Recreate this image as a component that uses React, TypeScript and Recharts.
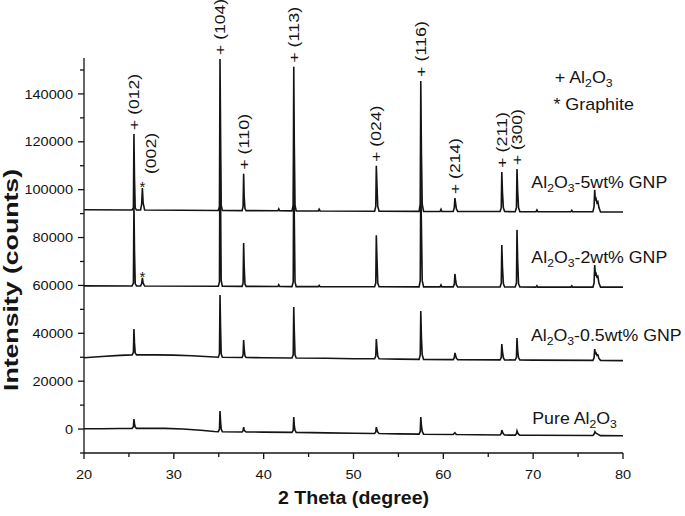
import React from 'react';
import { LineChart, Line, XAxis, YAxis, ReferenceDot } from 'recharts';

// 2θ (degree) / intensity (counts) pairs
const pure: [number, number][] = [
  [20, 100], [22, 150], [24, 250],
  [25.35, 300], [25.5, 1000], [25.56, 4200], [25.62, 2300], [25.7, 800], [25.85, 300],
  [27, 300], [29, 300], [31, 0], [33, -500], [34.5, -1000],
  [34.95, -1100], [35.08, 0], [35.14, 7500], [35.2, 3500], [35.27, 0], [35.4, -1100],
  [37.6, -1200], [37.71, -700], [37.77, 800], [37.83, -300], [37.92, -900], [38.05, -1200],
  [40, -1300],
  [43.15, -1400], [43.29, -500], [43.35, 5000], [43.41, 1500], [43.49, -500], [43.62, -1400],
  [47, -1600], [50, -1750],
  [52.35, -1850], [52.48, -1200], [52.54, 800], [52.61, -200], [52.7, -1300], [52.85, -1850],
  [55, -2000],
  [57.3, -2100], [57.43, -1000], [57.49, 5000], [57.56, 1500], [57.65, -1000], [57.8, -2150],
  [61.1, -2300], [61.29, -1500], [61.45, -2300],
  [66.32, -2500], [66.45, -1800], [66.51, -400], [66.58, -1200], [66.68, -2000], [66.82, -2500],
  [68.0, -2550], [68.14, -1900], [68.2, -800], [68.27, -1500], [68.37, -2100], [68.52, -2550],
  [70, -2600],
  [76.65, -2700], [76.8, -2000], [76.88, -1100], [77.0, -1700], [77.15, -2000], [77.35, -2500], [77.5, -2750],
  [80, -2800],
];

const gnp05: [number, number][] = [
  [20, 29800], [22, 30300], [24, 30800],
  [25.35, 31000], [25.5, 32000], [25.56, 41800], [25.62, 36000], [25.7, 31800], [25.85, 31000],
  [28, 31000], [30, 30900], [32, 30600], [34, 30200],
  [34.95, 30000], [35.08, 31500], [35.14, 56000], [35.2, 43000], [35.27, 31500], [35.4, 30000],
  [37.6, 29900], [37.71, 31000], [37.77, 37200], [37.83, 33500], [37.92, 30500], [38.05, 29900],
  [40, 29800],
  [43.15, 29700], [43.29, 31000], [43.35, 51000], [43.41, 41000], [43.49, 31000], [43.62, 29700],
  [47, 29550], [50, 29400],
  [52.35, 29350], [52.48, 30500], [52.54, 37600], [52.61, 34000], [52.7, 30500], [52.85, 29350],
  [55, 29200],
  [57.3, 29100], [57.43, 31000], [57.49, 49300], [57.56, 38400], [57.65, 31000], [57.8, 29100],
  [61.1, 29000], [61.22, 29800], [61.29, 31800], [61.36, 30800], [61.45, 29600], [61.6, 29000],
  [66.32, 28900], [66.45, 30000], [66.51, 35500], [66.58, 32500], [66.68, 29800], [66.82, 28900],
  [68.0, 28850], [68.14, 30000], [68.2, 38000], [68.27, 33000], [68.37, 29800], [68.52, 28850],
  [70, 28800],
  [76.65, 28700], [76.78, 29800], [76.85, 33400], [76.92, 31500], [77.0, 31800], [77.1, 30800], [77.2, 31000], [77.32, 29500], [77.5, 28700],
  [80, 28600],
];

const gnp2: [number, number][] = [
  [20, 59800],
  [25.35, 59750], [25.5, 61000], [25.56, 94000], [25.62, 75000], [25.7, 60800], [25.85, 59750],
  [26.3, 59750], [26.42, 60800], [26.5, 63200], [26.58, 61000], [26.75, 59750],
  [34.95, 59650], [35.08, 61500], [35.14, 121000], [35.2, 98000], [35.27, 62000], [35.4, 59650],
  [37.6, 59600], [37.71, 61000], [37.77, 77700], [37.83, 68000], [37.92, 60500], [38.05, 59600],
  [41.58, 59550], [41.68, 60300], [41.78, 59550],
  [43.15, 59500], [43.29, 61500], [43.35, 112000], [43.41, 88000], [43.49, 61500], [43.62, 59500],
  [46.08, 59500], [46.18, 60000], [46.28, 59500],
  [52.35, 59450], [52.48, 61000], [52.54, 81000], [52.61, 71500], [52.7, 61000], [52.85, 59450],
  [57.3, 59400], [57.43, 62000], [57.49, 102000], [57.56, 85000], [57.65, 62000], [57.8, 59400],
  [59.64, 59400], [59.74, 60200], [59.84, 59400],
  [61.1, 59400], [61.22, 60500], [61.29, 64800], [61.36, 62500], [61.45, 60200], [61.6, 59400],
  [66.32, 59350], [66.45, 61000], [66.51, 76900], [66.58, 68000], [66.68, 60800], [66.82, 59350],
  [68.0, 59350], [68.14, 61000], [68.2, 83200], [68.27, 71000], [68.37, 60800], [68.52, 59350],
  [70.32, 59300], [70.42, 59900], [70.52, 59300],
  [74.2, 59300], [74.3, 59800], [74.4, 59300],
  [76.65, 59300], [76.78, 61000], [76.85, 68500], [76.92, 64500], [77.0, 65000], [77.1, 63500], [77.2, 63800], [77.32, 61000], [77.5, 59300],
  [80, 59300],
];

const gnp5: [number, number][] = [
  [20, 91600],
  [25.35, 91500], [25.5, 92500], [25.56, 123300], [25.62, 105000], [25.7, 92300], [25.85, 91500],
  [26.3, 91500], [26.42, 94000], [26.5, 100700], [26.58, 94500], [26.75, 91500],
  [34.95, 91300], [35.08, 93000], [35.14, 154600], [35.2, 125500], [35.27, 93500], [35.4, 91300],
  [37.6, 91250], [37.71, 93000], [37.77, 106600], [37.83, 97000], [37.92, 92000], [38.05, 91250],
  [41.58, 91200], [41.68, 92000], [41.78, 91200],
  [43.15, 91150], [43.29, 93500], [43.35, 151300], [43.41, 119000], [43.49, 93500], [43.62, 91150],
  [46.08, 91100], [46.18, 91800], [46.28, 91100],
  [52.35, 91000], [52.48, 93000], [52.54, 110000], [52.61, 102000], [52.7, 93000], [52.85, 91000],
  [57.3, 90950], [57.43, 94000], [57.49, 145400], [57.56, 115700], [57.65, 94000], [57.8, 90950],
  [59.64, 90900], [59.74, 91800], [59.84, 90900],
  [61.1, 90900], [61.22, 92500], [61.29, 96500], [61.36, 94500], [61.45, 92000], [61.6, 90900],
  [66.32, 90850], [66.45, 92500], [66.51, 107400], [66.58, 99000], [66.68, 92500], [66.82, 90850],
  [68.0, 90800], [68.14, 92500], [68.2, 108600], [68.27, 100000], [68.37, 92500], [68.52, 90800],
  [70.32, 90800], [70.42, 91500], [70.52, 90800],
  [74.2, 90750], [74.3, 91400], [74.4, 90750],
  [76.65, 90750], [76.78, 93000], [76.85, 99900], [76.92, 95500], [77.0, 96200], [77.1, 94500], [77.2, 95000], [77.32, 92500], [77.5, 90700],
  [80, 90700],
];

const peakLabels = [
  { t: 25.56, v: 123300, text: '+ (012)' },
  { t: 35.14, v: 154600, text: '+ (104)' },
  { t: 37.77, v: 106600, text: '+ (110)' },
  { t: 43.35, v: 151300, text: '+ (113)' },
  { t: 52.54, v: 110000, text: '+ (024)' },
  { t: 57.49, v: 145400, text: '+ (116)' },
  { t: 61.29, v: 96500, text: '+ (214)' },
  { t: 66.51, v: 107400, text: '+ (211)' },
  { t: 68.2, v: 108600, text: '+ (300)' },
];
const graphiteMarks = [
  { t: 26.5, v: 100700 },
  { t: 26.5, v: 63200 },
];
const graphiteLabel = { t: 26.5, v: 100700, text: '(002)' };

const seriesLabels = [
  { t: 69.8, v: 100700, pre: '', post: '-5wt% GNP' },
  { t: 69.8, v: 69400, pre: '', post: '-2wt% GNP' },
  { t: 69.75, v: 36800, pre: '', post: '-0.5wt% GNP' },
  { t: 69.9, v: 2100, pre: 'Pure ', post: '' },
];
const legendLines = [
  { t: 72.4, v: 144600, mark: '+ ', formula: true, text: '' },
  { t: 72.25, v: 133300, mark: '* ', formula: false, text: 'Graphite' },
];

const xTicks = [20, 25, 30, 35, 40, 45, 50, 55, 60, 65, 70, 75, 80];
const xMajor = [20, 30, 40, 50, 60, 70, 80];
const yTicks = [-10000, 0, 10000, 20000, 30000, 40000, 50000, 60000, 70000, 80000, 90000, 100000, 110000, 120000, 130000, 140000, 150000];
const yMajor = [0, 20000, 40000, 60000, 80000, 100000, 120000, 140000];

const toRows = (pts: [number, number][]) => pts.map(([t, v]) => ({ t, v }));

const FONT = '"Liberation Sans", Arial, Helvetica, sans-serif';
const INK = '#141414';

const XTick = (p: any) => {
  const { x, y, payload } = p;
  const major = xMajor.includes(payload.value);
  return (
    <g>
      <line x1={x} x2={x} y1={y} y2={y + (major ? 6 : 4)} stroke={INK} strokeWidth={1.3} />
      {major && (
        <g transform={`translate(${x},${y + 26}) scale(1.12,1)`}>
          <text x={0} y={0} textAnchor="middle" fontSize={13} fontFamily={FONT} fill={INK}>
            {payload.value}
          </text>
        </g>
      )}
    </g>
  );
};

const YTick = (p: any) => {
  const { x, y, payload } = p;
  const major = yMajor.includes(payload.value);
  return (
    <g>
      <line x1={x - (major ? 6 : 4)} x2={x} y1={y} y2={y} stroke={INK} strokeWidth={1.3} />
      {major && (
        <g transform={`translate(${x - 11},${y + 4.6}) scale(1.12,1)`}>
          <text x={0} y={0} textAnchor="end" fontSize={13} fontFamily={FONT} fill={INK}>
            {payload.value}
          </text>
        </g>
      )}
    </g>
  );
};

const Formula = ({ pre, post }: { pre: string; post: string }) => (
  <text x={0} y={0} fontSize={16} fontFamily={FONT} fill={INK}>
    {pre}Al
    <tspan fontSize={11} dy={4}>2</tspan>
    <tspan fontSize={16} dy={-4}>O</tspan>
    <tspan fontSize={11} dy={4}>3</tspan>
    {post ? <tspan fontSize={16} dy={-4}>{post}</tspan> : null}
  </text>
);

export default function App() {
  return (
    <div style={{ position: 'absolute', left: 0, top: 0, width: 685, height: 516, background: '#fff' }}>
      <LineChart width={685} height={516} margin={{ top: 58, right: 62, bottom: 33, left: 24 }}>
        <XAxis
          type="number"
          dataKey="t"
          domain={[20, 80]}
          ticks={xTicks}
          interval={0}
          allowDataOverflow
          tickSize={0}
          tickMargin={0}
          height={30}
          axisLine={{ stroke: INK, strokeWidth: 1.3 }}
          tickLine={false}
          tick={(p: any) => <XTick {...p} />}
          label={{
            content: (lp: any) => {
              const vb = lp.viewBox || { x: 84, y: 453, width: 539 };
              return (
                <g transform={`translate(${vb.x + vb.width / 2},${vb.y + 51}) scale(1.12,1)`}>
                  <text x={0} y={0} textAnchor="middle" fontSize={17.5} fontWeight="bold" fontFamily={FONT} fill={INK}>
                    2 Theta (degree)
                  </text>
                </g>
              );
            },
          }}
        />
        <YAxis
          type="number"
          domain={[-10000, 155000]}
          ticks={yTicks}
          interval={0}
          allowDataOverflow
          tickSize={0}
          tickMargin={0}
          width={60}
          axisLine={{ stroke: INK, strokeWidth: 1.3 }}
          tickLine={false}
          tick={(p: any) => <YTick {...p} />}
          label={{
            content: () => (
              <text
                transform="translate(18,280) rotate(-90)"
                x={0}
                y={0}
                textAnchor="middle"
                fontSize={20}
                fontWeight="bold"
                fontFamily={FONT}
                fill={INK}
                textLength={222}
                lengthAdjust="spacingAndGlyphs"
              >
                Intensity (counts)
              </text>
            ),
          }}
        />
        {[pure, gnp05, gnp2, gnp5].map((s, i) => (
          <Line
            key={i}
            data={toRows(s)}
            dataKey="v"
            type="linear"
            stroke={INK}
            strokeWidth={1.6}
            dot={false}
            activeDot={false}
            isAnimationActive={false}
          />
        ))}
        {peakLabels.map((l, i) => (
          <ReferenceDot
            key={'pl' + i}
            x={l.t}
            y={l.v}
            r={0}
            ifOverflow="visible"
            shape={(p: any) => (
              <text
                transform={`translate(${p.cx},${p.cy - 4}) rotate(-90)`}
                x={0}
                y={0}
                dy="0.36em"
                fontSize={14}
                fontFamily={FONT}
                fill={INK}
                textLength={56}
                lengthAdjust="spacingAndGlyphs"
              >
                {l.text}
              </text>
            )}
          />
        ))}
        <ReferenceDot
          x={graphiteLabel.t}
          y={graphiteLabel.v}
          r={0}
          ifOverflow="visible"
          shape={(p: any) => (
            <text
              transform={`translate(${p.cx + 9},${p.cy - 14}) rotate(-90)`}
              x={0}
              y={0}
              dy="0.36em"
              fontSize={14}
              fontFamily={FONT}
              fill={INK}
              textLength={41}
              lengthAdjust="spacingAndGlyphs"
            >
              {graphiteLabel.text}
            </text>
          )}
        />
        {graphiteMarks.map((g, i) => (
          <ReferenceDot
            key={'gm' + i}
            x={g.t}
            y={g.v}
            r={0}
            ifOverflow="visible"
            shape={(p: any) => (
              <text x={p.cx} y={p.cy + 4} textAnchor="middle" fontSize={15} fontFamily={FONT} fill={INK}>
                *
              </text>
            )}
          />
        ))}
        {seriesLabels.map((s, i) => (
          <ReferenceDot
            key={'sl' + i}
            x={s.t}
            y={s.v}
            r={0}
            ifOverflow="visible"
            shape={(p: any) => (
              <g transform={`translate(${p.cx},${p.cy}) scale(1.11,1)`}>
                <Formula pre={s.pre} post={s.post} />
              </g>
            )}
          />
        ))}
        {legendLines.map((l, i) => (
          <ReferenceDot
            key={'lg' + i}
            x={l.t}
            y={l.v}
            r={0}
            ifOverflow="visible"
            shape={(p: any) => (
              <g transform={`translate(${p.cx},${p.cy}) scale(1.12,1)`}>
                {l.formula ? (
                  <Formula pre={l.mark} post="" />
                ) : (
                  <text x={0} y={0} fontSize={16} fontFamily={FONT} fill={INK}>
                    {l.mark + l.text}
                  </text>
                )}
              </g>
            )}
          />
        ))}
      </LineChart>
    </div>
  );
}
